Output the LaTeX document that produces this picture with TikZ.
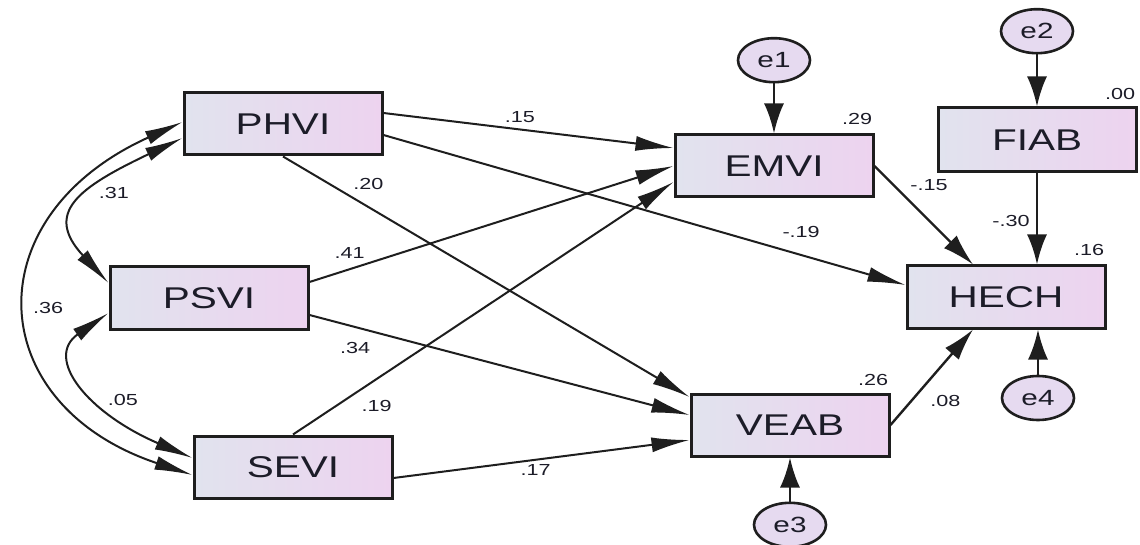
\documentclass[tikz,border=0pt]{standalone}
\usepackage{fontspec}
\newfontfamily\amosfont[FakeStretch=1.35]{Liberation Sans}
\usetikzlibrary{arrows.meta,shapes.geometric,positioning,calc}
\definecolor{boxleft}{HTML}{E1E3EE}
\definecolor{boxright}{HTML}{EDD3EF}
\definecolor{errfill}{HTML}{E6DAF0}
\definecolor{edge}{HTML}{1E1E1E}
\definecolor{ink}{HTML}{1C1C28}

\begin{document}
\begin{tikzpicture}[x=0.5pt, y=-0.5pt,
    var/.style={rectangle, draw=edge, line width=1.5pt, left color=boxleft, right color=boxright, minimum width=99pt, minimum height=31pt, font=\amosfont\fontsize{15}{18}\selectfont, text=ink},
    err/.style={ellipse, draw=edge, line width=1.3pt, fill=errfill, minimum width=36pt, minimum height=22pt, inner sep=0pt, font=\amosfont\fontsize{11}{12}\selectfont, text=ink},
    est/.style={font=\amosfont\fontsize{8}{9}\selectfont, text=ink, inner sep=1pt},
    rsq/.style={est, anchor=south east},
    reg/.style={-{Latex[length=19pt,width=7.5pt]}, line width=1pt, draw=edge},
    slant/.style={-{Latex[length=16pt,width=9pt]}, line width=1.2pt, draw=edge},
    vert/.style={-{Latex[length=15pt,width=10pt]}, line width=1.4pt, draw=edge},
    cov/.style={{Latex[length=19pt,width=7pt]}-{Latex[length=19pt,width=7pt]}, line width=1pt, draw=edge}]

\useasboundingbox (0,0) rectangle (1140,545);

\node[var] (phvi) at (283,124) {PHVI};
\node[var] (psvi) at (209,298) {PSVI};
\node[var] (sevi) at (293,467) {SEVI};
\node[var] (emvi) at (774,166) {EMVI};
\node[var] (veab) at (790,425) {VEAB};
\node[var] (hech) at (1006,297) {HECH};
\node[var, minimum height=32pt] (fiab) at (1037,140) {FIAB};
\node[err, above=25pt of emvi] (e1) {e1};
\node[err, above=26pt of fiab] (e2) {e2};
\node[err, below=22pt of veab] (e3) {e3};
\node[err] (e4) at (1038,398) {e4};

\node[rsq] at ([yshift=3pt]emvi.north east) {.29};
\node[rsq] at ([yshift=2pt]fiab.north east) {.00};
\node[rsq] at ([yshift=3pt]hech.north east) {.16};
\node[rsq] at ([yshift=2pt]veab.north east) {.26};

\draw[cov] ($(phvi.west)+(0,14)$) .. controls +(-105,50) and +(-65,-70) .. node[est, pos=0.42, right=3pt] {.31} ($(psvi.west)+(0,-15)$);
\draw[cov] ($(phvi.west)+(0,-2)$) .. controls +(-210,95) and +(-210,-70) .. node[est, pos=0.5, right=0pt] {.36} ($(sevi.west)+(0,8)$);
\draw[cov] ($(psvi.west)+(0,15)$) .. controls +(-65,45) and +(-105,-45) .. node[est, pos=0.6, right=3pt] {.05} ($(sevi.west)+(0,-9)$);

\draw[reg] ($(phvi.east)+(0,-11)$) -- node[est, pos=0.47, above=2pt] {.15} ($(emvi.west)+(0,-18)$);
\draw[reg] ($(phvi.east)+(0,11)$) -- node[est, pos=0.8, above=7pt] {-.19} ($(hech.west)+(0,-12)$);
\draw[reg] (phvi.south) -- node[est, pos=0.21, above=7pt] {.20} ($(veab.west)+(0,-28)$);
\draw[reg] ($(psvi.east)+(0,-16)$) -- node[est, pos=0.11, above=4pt] {.41} (emvi.west);
\draw[reg] ($(psvi.east)+(0,17)$) -- node[est, pos=0.12, below=6pt] {.34} ($(veab.west)+(0,-10)$);
\draw[reg] (sevi.north) -- node[est, pos=0.22, below=9pt] {.19} ($(emvi.west)+(0,16)$);
\draw[reg] ($(sevi.east)+(0,11)$) -- node[est, pos=0.48, below=1pt] {.17} ($(veab.west)+(0,15)$);
\draw[slant] (emvi.east) -- node[est, pos=0.19, right=7pt] {-.15} ($(hech.north)+(-33,0)$);
\draw[slant] (veab.east) -- node[est, pos=0.25, right=8pt] {.08} ($(hech.south)+(-33,0)$);
\draw[vert] (fiab) -- node[est, pos=0.52, left=2pt] {-.30} (fiab |- hech.north);

\draw[vert] (e1) -- (emvi);
\draw[vert] (e2) -- (fiab);
\draw[vert] (e3) -- (veab);
\draw[vert] (e4) -- (e4 |- hech.south);

\end{tikzpicture}
\end{document}
